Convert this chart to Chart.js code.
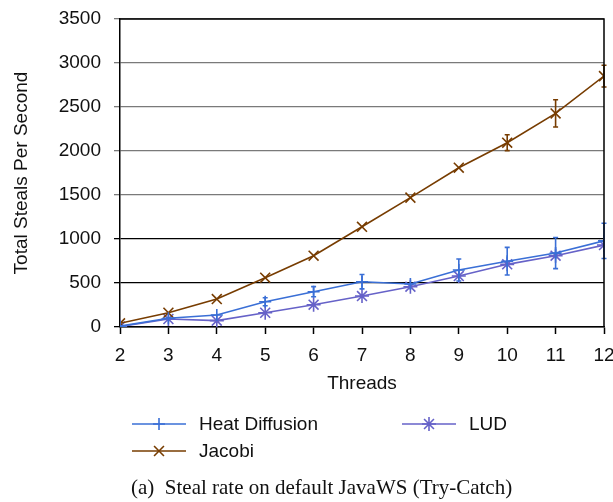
<!DOCTYPE html>
<html>
<head>
<meta charset="utf-8">
<script src="https://cdn.jsdelivr.net/npm/chart.js@4.4.0/dist/chart.umd.min.js"></script>
<style>
  html, body { margin: 0; padding: 0; background: #fff; }
  #wrap { width: 613px; height: 502px; }
</style>
</head>
<body>
<div id="wrap"><canvas id="steals" width="613" height="502"></canvas></div>
<script>
// Steal rate data
const threads = [2, 3, 4, 5, 6, 7, 8, 9, 10, 11, 12];
const heatDiffusion = [10, 99, 136, 287, 401, 515, 488, 648, 748, 840, 979];
const heatErr = [0, 0, 0, 45, 58, 82, 0, 125, 157, 177, 200];
const lud = [5, 91, 72, 162, 253, 352, 458, 579, 712, 810, 931];
const ludErr = [0, 0, 0, 0, 0, 0, 0, 0, 0, 0, 0];
const jacobi = [42, 162, 318, 560, 810, 1139, 1470, 1810, 2094, 2427, 2851];
const jacobiErr = [0, 0, 0, 0, 0, 0, 0, 0, 90, 155, 123];
const yTicks = [0, 500, 1000, 1500, 2000, 2500, 3000, 3500];

const FONT = '"Liberation Sans", Arial, Helvetica, sans-serif';
const FS = 19;

function points(values) {
  return threads.map((t, i) => ({ x: t, y: values[i] }));
}

// vertical error bars, drawn through the chart scales
const errorBars = {
  id: 'errorBars',
  afterDatasetsDraw(chart) {
    const ctx = chart.ctx;
    const xs = chart.scales.x, ys = chart.scales.y;
    chart.data.datasets.forEach(ds => {
      if (!ds.err) return;
      ctx.save();
      ctx.strokeStyle = ds.borderColor;
      ctx.lineWidth = 1.6;
      ds.data.forEach((p, i) => {
        const e = ds.err[i];
        if (!e) return;
        const px = xs.getPixelForValue(p.x);
        const top = ys.getPixelForValue(p.y + e);
        const bot = ys.getPixelForValue(p.y - e);
        ctx.beginPath();
        ctx.moveTo(px, top); ctx.lineTo(px, bot);
        ctx.moveTo(px - 2.5, top); ctx.lineTo(px + 2.5, top);
        ctx.moveTo(px - 2.5, bot); ctx.lineTo(px + 2.5, bot);
        ctx.stroke();
      });
      ctx.restore();
    });
  }
};

// top and right frame lines
const frame = {
  id: 'frame',
  afterDraw(chart) {
    const { ctx, chartArea: a } = chart;
    ctx.save();
    ctx.strokeStyle = '#000';
    ctx.lineWidth = 1.5;
    ctx.beginPath();
    ctx.moveTo(a.left, a.top); ctx.lineTo(a.right, a.top); ctx.lineTo(a.right, a.bottom);
    ctx.stroke();
    ctx.restore();
  }
};

// legend in two columns plus the figure caption underneath
const bottomLegend = {
  id: 'bottomLegend',
  afterDraw(chart) {
    const ctx = chart.ctx;
    const slots = [
      { x: 132, y: 424 },
      { x: 402, y: 424 },
      { x: 132, y: 451 }
    ];
    const order = [0, 2, 1];
    ctx.save();
    order.forEach((di, k) => {
      const ds = chart.data.datasets[di];
      const s = slots[k];
      ctx.strokeStyle = ds.borderColor;
      ctx.lineWidth = 1.6;
      ctx.beginPath();
      ctx.moveTo(s.x, s.y); ctx.lineTo(s.x + 54, s.y);
      ctx.stroke();
      Chart.helpers.drawPoint(ctx, {
        pointStyle: ds.pointStyle, radius: ds.pointRadius, borderWidth: 1.6
      }, s.x + 27, s.y);
      ctx.fillStyle = '#111';
      ctx.font = FS + 'px ' + FONT;
      ctx.textBaseline = 'middle';
      ctx.textAlign = 'left';
      ctx.fillText(ds.label, s.x + 67, s.y + 1);
    });
    ctx.font = '21px "Liberation Serif", "Times New Roman", serif';
    ctx.fillStyle = '#111';
    ctx.textBaseline = 'middle';
    ctx.fillText('(a)  Steal rate on default JavaWS (Try-Catch)', 131, 488);
    ctx.restore();
  }
};

function series(label, values, err, color, style, radius) {
  return {
    label: label,
    data: points(values),
    err: err,
    borderColor: color,
    backgroundColor: color,
    borderWidth: 1.6,
    pointStyle: style,
    pointRadius: radius,
    pointBorderWidth: 1.6,
    pointHoverRadius: radius,
    tension: 0
  };
}

new Chart(document.getElementById('steals'), {
  type: 'line',
  data: {
    datasets: [
      series('Heat Diffusion', heatDiffusion, heatErr, '#3a6fd6', 'cross', 6),
      series('Jacobi', jacobi, jacobiErr, '#773c00', 'crossRot', 7),
      series('LUD', lud, ludErr, '#6662c8', 'star', 7)
    ]
  },
  options: {
    responsive: false,
    animation: false,
    layout: { padding: { top: 19, right: 9, left: 0, bottom: 0 } },
    plugins: {
      legend: { display: false },
      tooltip: { enabled: false }
    },
    scales: {
      x: {
        type: 'linear',
        min: 2,
        max: 12,
        afterFit(scale) {
          scale.height = 175;
          scale.paddingLeft = 0;
          scale.paddingRight = 0;
        },
        afterBuildTicks(scale) { scale.ticks = threads.map(v => ({ value: v })); },
        ticks: {
          color: '#111',
          font: { family: FONT, size: FS },
          padding: 10,
          maxRotation: 0
        },
        grid: { drawOnChartArea: false, drawTicks: true, tickLength: 7, tickColor: '#000', tickWidth: 1.5 },
        border: { color: '#000', width: 1.5 },
        title: {
          display: true,
          text: 'Threads',
          color: '#111',
          font: { family: FONT, size: FS },
          padding: { top: 0, bottom: 107 }
        }
      },
      y: {
        min: 0,
        max: 3500,
        afterFit(scale) {
          scale.width = 120;
          scale.paddingTop = 0;
          scale.paddingBottom = 0;
        },
        afterBuildTicks(scale) { scale.ticks = yTicks.map(v => ({ value: v })); },
        ticks: {
          color: '#111',
          font: { family: FONT, size: FS },
          padding: 13,
          callback: v => String(v)
        },
        grid: {
          color: c => (c.tick && c.tick.value >= 1500 ? '#7a7a7a' : '#000'),
          tickColor: c => (c.tick && c.tick.value >= 1500 ? '#7a7a7a' : '#000'),
          lineWidth: 1.3,
          tickLength: 6
        },
        border: { color: '#000', width: 1.5 },
        title: {
          display: true,
          text: 'Total Steals Per Second',
          color: '#111',
          font: { family: FONT, size: FS },
          padding: { top: 10, bottom: 0 }
        }
      }
    }
  },
  plugins: [errorBars, frame, bottomLegend]
});
</script>
</body>
</html>
